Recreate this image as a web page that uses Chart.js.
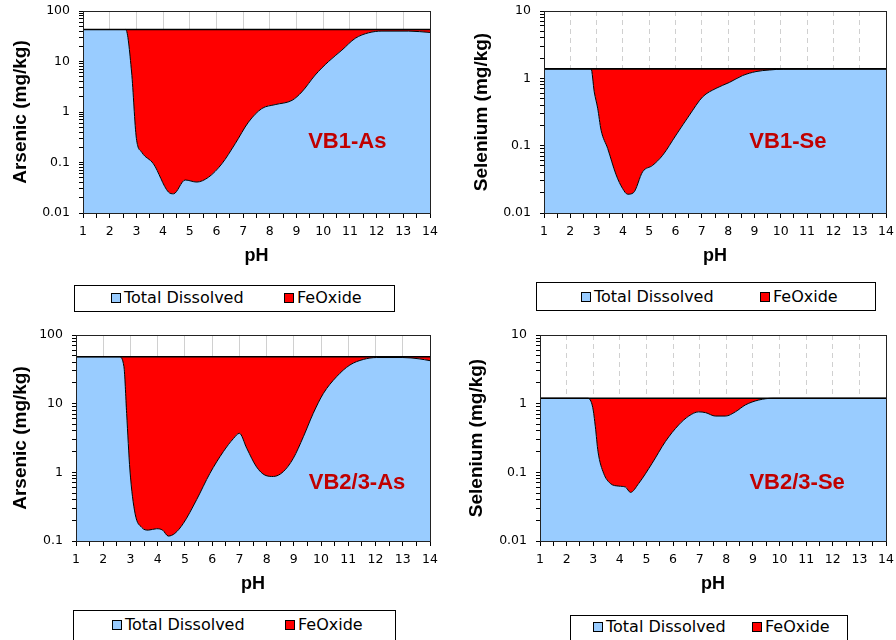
<!DOCTYPE html>
<html lang="en">
  <head>
    <meta charset="UTF-8" />
    <script src="https://cdn.jsdelivr.net/npm/chart.js"></script>
    <title>Arsenic and Selenium partitioning vs pH</title>
    <style>
      body { margin: 0; width: 896px; height: 640px; position: relative; overflow: hidden; background: #fff; }
      canvas { position: absolute; }
      .legend { position: absolute; border: 1px solid #000; box-sizing: border-box; background: #fff;
        font-family: "DejaVu Sans", sans-serif; font-size: 16px; color: #000; }
      .legend span { position: absolute; white-space: nowrap; line-height: 18px; }
      .legend i { position: absolute; width: 8px; height: 8px; border: 1px solid #000; }
    </style>
  </head>
  <body>
    <canvas id="as1" width="440" height="270" style="left:0;top:0"></canvas>
    <canvas id="se1" width="448" height="270" style="left:448px;top:0"></canvas>
    <canvas id="as2" width="440" height="280" style="left:0;top:320px"></canvas>
    <canvas id="se2" width="448" height="280" style="left:448px;top:320px"></canvas>

    <script>
      // pH values and tick labels
      const phTicks = [1, 2, 3, 4, 5, 6, 7, 8, 9, 10, 11, 12, 13, 14];

      // VB1 arsenic (mg/kg)
      const phAs1 = [1, 2.6, 2.82, 3.0, 3.2, 3.64, 4.2, 4.39, 4.83, 5.26, 5.7, 6.2, 6.7, 7.2, 7.7, 8.2, 8.83, 9.2, 9.7, 10.2, 10.7, 11.2, 11.7, 12.2, 13.2, 14];
      const dissolvedAs1 = [43, 43, 6.2, 0.3, 0.16, 0.094, 0.026, 0.024, 0.045, 0.041, 0.051, 0.094, 0.235, 0.63, 1.17, 1.4, 1.7, 2.5, 5.4, 10, 16.8, 28.8, 37, 40, 40, 37.6];
      const totalAs1 = [43, 43, 43, 43, 43, 43, 43, 43, 43, 43, 43, 43, 43, 43, 43, 43, 43, 43, 43, 43, 43, 43, 43, 43, 43, 43];
      const decadesAs1 = [0.01, 0.1, 1, 10, 100];

      // VB1 selenium (mg/kg)
      const phSe1 = [1, 2.79, 2.91, 3.04, 3.17, 3.42, 3.74, 3.99, 4.18, 4.4, 4.75, 5.13, 5.51, 6.02, 6.53, 7.03, 7.54, 8.05, 8.55, 9.06, 9.57, 10.1, 14];
      const dissolvedSe1 = [1.38, 1.38, 0.63, 0.36, 0.17, 0.091, 0.037, 0.023, 0.019, 0.02, 0.041, 0.051, 0.072, 0.144, 0.285, 0.53, 0.71, 0.87, 1.1, 1.26, 1.33, 1.37, 1.38];
      const totalSe1 = [1.38, 1.38, 1.38, 1.38, 1.38, 1.38, 1.38, 1.38, 1.38, 1.38, 1.38, 1.38, 1.38, 1.38, 1.38, 1.38, 1.38, 1.38, 1.38, 1.38, 1.38, 1.38, 1.38];
      const decadesSe1 = [0.01, 0.1, 1, 10];

      // VB2/3 arsenic (mg/kg)
      const phAs2 = [1, 2.59, 2.76, 2.86, 2.98, 3.17, 3.41, 3.66, 3.96, 4.18, 4.39, 4.63, 4.94, 5.43, 5.92, 6.41, 6.78, 7.0, 7.27, 7.63, 7.94, 8.25, 8.61, 8.98, 9.35, 9.71, 10.08, 10.57, 11.06, 11.55, 12.04, 13.0, 13.6, 14];
      const dissolvedAs2 = [48.3, 48.3, 34.6, 7.2, 1.08, 0.25, 0.158, 0.144, 0.151, 0.144, 0.118, 0.129, 0.18, 0.4, 0.97, 2.0, 3.1, 3.7, 2.24, 1.2, 0.91, 0.87, 1.02, 1.6, 3.3, 7.2, 14, 24.7, 36.6, 44, 47, 47, 45, 42.3];
      const totalAs2 = [48.3, 48.3, 48.3, 48.3, 48.3, 48.3, 48.3, 48.3, 48.3, 48.3, 48.3, 48.3, 48.3, 48.3, 48.3, 48.3, 48.3, 48.3, 48.3, 48.3, 48.3, 48.3, 48.3, 48.3, 48.3, 48.3, 48.3, 48.3, 48.3, 48.3, 48.3, 48.3, 48.3, 48.3];
      const decadesAs2 = [0.1, 1, 10, 100];

      // VB2/3 selenium (mg/kg)
      const phSe2 = [1, 2.8, 2.98, 3.08, 3.18, 3.39, 3.64, 3.96, 4.21, 4.4, 4.71, 5.21, 5.71, 6.21, 6.59, 6.96, 7.22, 7.59, 7.97, 8.34, 8.72, 9.22, 9.75, 14];
      const dissolvedSe2 = [1.2, 1.2, 0.885, 0.46, 0.2, 0.097, 0.069, 0.063, 0.061, 0.051, 0.069, 0.135, 0.28, 0.49, 0.66, 0.76, 0.74, 0.66, 0.66, 0.76, 0.96, 1.13, 1.2, 1.2];
      const totalSe2 = [1.2, 1.2, 1.2, 1.2, 1.2, 1.2, 1.2, 1.2, 1.2, 1.2, 1.2, 1.2, 1.2, 1.2, 1.2, 1.2, 1.2, 1.2, 1.2, 1.2, 1.2, 1.2, 1.2, 1.2];
      const decadesSe2 = [0.01, 0.1, 1, 10];

      const seriesNames = ["Total Dissolved", "FeOxide"];
      const tickFont = { family: '"DejaVu Sans", sans-serif', size: 12.5 };
      const titleFamily = '"Liberation Sans", Arial, sans-serif';

      // frame round the plot area + the sample label inside it
      const frameAndLabel = {
        id: "frameAndLabel",
        afterDraw(chart, args, opts) {
          const { ctx, chartArea: a, scales } = chart;
          const al = (v) => Math.round(v - 0.5) + 0.5;
          ctx.save();
          ctx.strokeStyle = "#222";
          ctx.lineWidth = 1;
          ctx.strokeRect(al(a.left), al(a.top), al(a.right) - al(a.left), al(a.bottom) - al(a.top));
          ctx.fillStyle = "#c00000";
          ctx.font = "bold 22px " + titleFamily;
          ctx.textAlign = "center";
          ctx.textBaseline = "middle";
          ctx.fillText(opts.text, scales.x.getPixelForValue(opts.at[0]), scales.y.getPixelForValue(opts.at[1]));
          ctx.restore();
        },
      };

      function drawPanel(id, p) {
        const yMin = p.decades[0];
        const yMax = p.decades[p.decades.length - 1];
        return new Chart(document.getElementById(id), {
          type: "line",
          data: {
            datasets: [
              {
                label: seriesNames[0],
                data: p.ph.map((x, i) => ({ x: x, y: p.dissolved[i] })),
                backgroundColor: "#99ccff",
                borderColor: "#000",
                borderWidth: 1,
                fill: "start",
                pointRadius: 0,
                cubicInterpolationMode: "monotone",
              },
              {
                label: seriesNames[1],
                data: p.ph.map((x, i) => ({ x: x, y: p.total[i] })),
                backgroundColor: "#ff0000",
                borderColor: "#000",
                borderWidth: 1.6,
                fill: "-1",
                pointRadius: 0,
              },
            ],
          },
          options: {
            responsive: false,
            animation: false,
            devicePixelRatio: 1,
            layout: { padding: { top: p.padTop, right: p.padRight, left: 0, bottom: 0 } },
            plugins: {
              legend: { display: false },
              tooltip: { enabled: false },
              filler: { drawTime: "beforeDatasetsDraw" },
              frameAndLabel: { text: p.label, at: p.labelAt },
            },
            scales: {
              x: {
                type: "linear",
                min: 1,
                max: 14,
                afterBuildTicks: (s) => {
                  const t = [];
                  for (let v = 2; v <= 28; v++) t.push({ value: v / 2 });
                  s.ticks = t;
                },
                afterFit: (s) => {
                  s.height = p.xHeight;
                  s.paddingLeft = 0;
                  s.paddingRight = 0;
                },
                ticks: {
                  autoSkip: false,
                  maxRotation: 0,
                  padding: 6,
                  color: "#000",
                  font: tickFont,
                  callback: (v) => (phTicks.includes(v) ? String(v) : ""),
                },
                grid: {
                  drawOnChartArea: true,
                  color: (c) =>
                    c.tick && Number.isInteger(c.tick.value) && c.tick.value > 1 && c.tick.value < 14
                      ? "#d0d0d0"
                      : "rgba(0,0,0,0)",
                  tickColor: "#000",
                  tickLength: 5,
                  borderDash: p.gridDash,
                },
                border: { display: true, color: "#000", dash: p.gridDash },
                title: {
                  display: true,
                  text: "pH",
                  color: "#000",
                  font: { family: titleFamily, size: 18, weight: "bold" },
                  padding: { top: 0, bottom: p.xTitlePad },
                },
              },
              y: {
                type: "logarithmic",
                min: yMin,
                max: yMax,
                afterBuildTicks: (s) => {
                  const t = [];
                  p.decades.forEach((d) => {
                    for (let k = 1; k <= 9; k++) {
                      if (k * d <= yMax * 1.0001) t.push({ value: k * d });
                    }
                  });
                  s.ticks = t;
                },
                afterFit: (s) => {
                  s.width = p.yWidth;
                  s.paddingTop = 0;
                  s.paddingBottom = 0;
                },
                ticks: {
                  autoSkip: false,
                  padding: 9,
                  color: "#000",
                  font: tickFont,
                  callback: (v) => (p.decades.includes(v) ? String(v) : ""),
                },
                grid: { drawOnChartArea: false, tickColor: "#000", tickLength: 4 },
                border: { display: true, color: "#000" },
                title: {
                  display: true,
                  text: p.yTitle,
                  color: "#000",
                  font: { family: titleFamily, size: 19, weight: "bold" },
                  padding: { top: p.yTitlePad, bottom: 0 },
                },
              },
            },
          },
          plugins: [frameAndLabel],
        });
      }

      // boxed legend under each chart
      function addLegend(b) {
        const box = document.createElement("div");
        box.className = "legend";
        Object.assign(box.style, { left: b.left + "px", top: b.top + "px", width: b.width + "px", height: b.height + "px" });
        const colors = ["#99ccff", "#ff0000"];
        [b.sw1, b.sw2].forEach((sx, i) => {
          const sw = document.createElement("i");
          Object.assign(sw.style, { left: sx - b.left - 1 + "px", top: b.mid - b.top - 6 + "px", background: colors[i] });
          box.appendChild(sw);
          const tx = document.createElement("span");
          tx.textContent = seriesNames[i];
          Object.assign(tx.style, { left: sx - b.left + 12 + "px", top: b.mid - b.top - 10 + "px" });
          box.appendChild(tx);
        });
        document.body.appendChild(box);
      }

      drawPanel("as1", {
        ph: phAs1, dissolved: dissolvedAs1, total: totalAs1, decades: decadesAs1,
        yTitle: "Arsenic (mg/kg)", label: "VB1-As", labelAt: [10.9, 0.255],
        padTop: 11, padRight: 10, yWidth: 83, xHeight: 57, yTitlePad: 9.6, xTitlePad: 2.8, gridDash: [],
      });
      drawPanel("se1", {
        ph: phSe1, dissolved: dissolvedSe1, total: totalSe1, decades: decadesSe1,
        yTitle: "Selenium (mg/kg)", label: "VB1-Se", labelAt: [10.27, 0.113],
        padTop: 11, padRight: 10, yWidth: 96, xHeight: 57, yTitlePad: 22.3, xTitlePad: 2.8, gridDash: [5, 4],
      });
      drawPanel("as2", {
        ph: phAs2, dissolved: dissolvedAs2, total: totalAs2, decades: decadesAs2,
        yTitle: "Arsenic (mg/kg)", label: "VB2/3-As", labelAt: [11.32, 0.7],
        padTop: 15, padRight: 10, yWidth: 76, xHeight: 59, yTitlePad: 9.6, xTitlePad: 4.8, gridDash: [],
      });
      drawPanel("se2", {
        ph: phSe2, dissolved: dissolvedSe2, total: totalSe2, decades: decadesSe2,
        yTitle: "Selenium (mg/kg)", label: "VB2/3-Se", labelAt: [10.66, 0.07],
        padTop: 15, padRight: 10, yWidth: 92, xHeight: 59, yTitlePad: 17.6, xTitlePad: 4.8, gridDash: [5, 4],
      });

      addLegend({ left: 74, top: 285, width: 321, height: 27, mid: 298, sw1: 111, sw2: 284 });
      addLegend({ left: 536, top: 282, width: 340, height: 29, mid: 297, sw1: 581, sw2: 760 });
      addLegend({ left: 73, top: 610, width: 323, height: 34, mid: 625, sw1: 112, sw2: 285 });
      addLegend({ left: 570, top: 615, width: 278, height: 30, mid: 627, sw1: 593, sw2: 752 });
    </script>
  </body>
</html>
